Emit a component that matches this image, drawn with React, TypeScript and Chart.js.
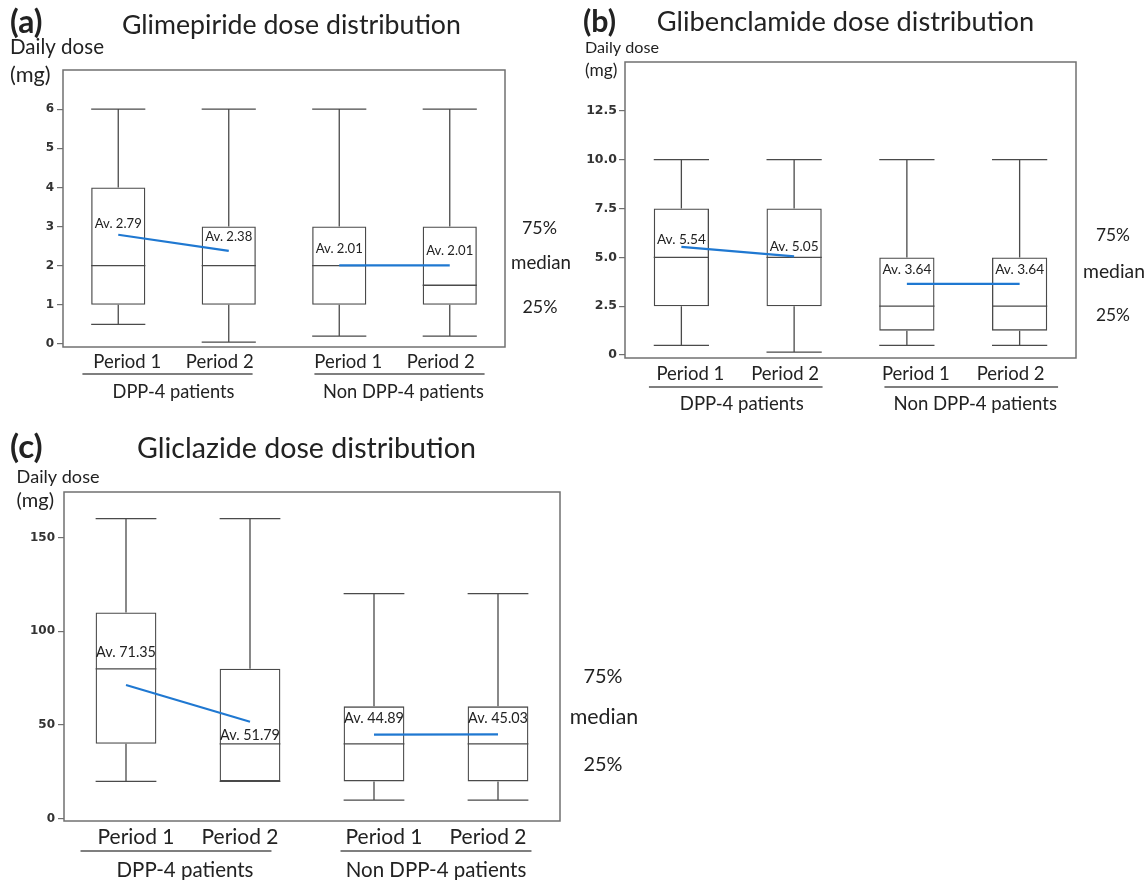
import React, { useEffect, useRef } from 'react';
import { Chart, registerables } from 'chart.js';

Chart.register(...registerables);

const W = 1148;
const H = 880;
const FONT = 'Lato, "Noto Sans", sans-serif';
const INK = '#222222';
const BOX = '#4a4a4a';
const FRAME = '#707070';
const BLUE = '#1f78d1';

// ---------- shared categories ----------
const categories = ['DPP-4 Period 1', 'DPP-4 Period 2', 'Non DPP-4 Period 1', 'Non DPP-4 Period 2'];
const periodLabels = ['Period 1', 'Period 2', 'Period 1', 'Period 2'];
const groupLabels = ['DPP-4 patients', 'Non DPP-4 patients'];
const sideLabels = ['75%', 'median', '25%'];

// ---------- (a) Glimepiride ----------
const glimMin = [0.5, 0.05, 0.2, 0.2];
const glimQ1 = [1, 1, 1, 1];
const glimMedian = [2, 2, 2, 1.5];
const glimQ3 = [4, 3, 3, 3];
const glimMax = [6, 6, 6, 6];
const glimMean = [2.79, 2.38, 2.01, 2.01];
const glimTicks = [0, 1, 2, 3, 4, 5, 6];
const glimTickLabels = ['0', '1', '2', '3', '4', '5', '6'];

// ---------- (b) Glibenclamide ----------
const glibMin = [0.5, 0.15, 0.5, 0.5];
const glibQ1 = [2.5, 2.5, 1.25, 1.25];
const glibMedian = [5, 5, 2.5, 2.5];
const glibQ3 = [7.5, 7.5, 5, 5];
const glibMax = [10, 10, 10, 10];
const glibMean = [5.54, 5.05, 3.64, 3.64];
const glibTicks = [0, 2.5, 5, 7.5, 10, 12.5];
const glibTickLabels = ['0', '2.5', '5.0', '7.5', '10.0', '12.5'];

// ---------- (c) Gliclazide ----------
const gliMin = [20, 20, 10, 10];
const gliQ1 = [40, 20, 20, 20];
const gliMedian = [80, 40, 40, 40];
const gliQ3 = [110, 80, 60, 60];
const gliMax = [160, 160, 120, 120];
const gliMean = [71.35, 51.79, 44.89, 45.03];
const gliTicks = [0, 50, 100, 150];
const gliTickLabels = ['0', '50', '100', '150'];

type TextItem = { text: string; x: number; y: number; w: number; align: 'left' | 'center'; bold?: boolean };

interface PanelDef {
  id: string;
  letter: string;
  title: string;
  mins: number[];
  q1: number[];
  medians: number[];
  q3: number[];
  maxs: number[];
  means: number[];
  ticks: number[];
  tickLabels: string[];
  yMin: number;
  yMax: number;
  area: { left: number; top: number; right: number; bottom: number };
  letterPos: [number, number, number];
  titlePos: [number, number, number];
  dailyPos: [number, number, number];
  mgPos: [number, number, number];
  sidePos: [number, number, number][];
  periodY: number;
  periodW: number;
  periodShift: number;
  underlineY: number;
  underlineDx: number[];
  groupY: number;
  groupW: number;
  groupDx: number[];
  avW: number;
  avDy: number[];
  tickSize: number;
  tickPad: number;
}

const panels: PanelDef[] = [
  {
    id: 'a',
    letter: '(a)',
    title: 'Glimepiride dose distribution',
    mins: glimMin, q1: glimQ1, medians: glimMedian, q3: glimQ3, maxs: glimMax, means: glimMean,
    ticks: glimTicks, tickLabels: glimTickLabels,
    yMin: -0.077, yMax: 7.0,
    area: { left: 63, top: 70, right: 505, bottom: 347 },
    letterPos: [10, 23, 32.5],
    titlePos: [291.4, 25, 339],
    dailyPos: [10, 47, 94],
    mgPos: [10, 75, 40.6],
    sidePos: [[539.5, 228, 35], [541, 263, 60], [540, 307, 35]],
    periodY: 362, periodW: 68, periodShift: 9,
    underlineY: 374, underlineDx: [-6, 5],
    groupY: 392, groupW: 122, groupDx: [0, 9],
    avW: 47, avDy: [-11, -14, -17, -15],
    tickSize: 12, tickPad: 3,
  },
  {
    id: 'b',
    letter: '(b)',
    title: 'Glibenclamide dose distribution',
    mins: glibMin, q1: glibQ1, medians: glibMedian, q3: glibQ3, maxs: glibMax, means: glibMean,
    ticks: glibTicks, tickLabels: glibTickLabels,
    yMin: -0.15, yMax: 15,
    area: { left: 625, top: 62, right: 1076, bottom: 358 },
    letterPos: [583, 22, 33],
    titlePos: [845.5, 22, 377.5],
    dailyPos: [585, 48, 74],
    mgPos: [585, 70, 32.4],
    sidePos: [[1113, 235, 34], [1114, 272, 62], [1113, 315, 34]],
    periodY: 374, periodW: 68, periodShift: 9,
    underlineY: 387, underlineDx: [-2, 8],
    groupY: 404, groupW: 124, groupDx: [4, 12],
    avW: 49, avDy: [-7, -10, -14, -14],
    tickSize: 12.5, tickPad: 2,
  },
  {
    id: 'c',
    letter: '(c)',
    title: 'Gliclazide dose distribution',
    mins: gliMin, q1: gliQ1, medians: gliMedian, q3: gliQ3, maxs: gliMax, means: gliMean,
    ticks: gliTicks, tickLabels: gliTickLabels,
    yMin: -1.1, yMax: 174.2,
    area: { left: 64, top: 492, right: 560, bottom: 821 },
    letterPos: [10, 447, 32.7],
    titlePos: [306.4, 449, 339],
    dailyPos: [16.6, 477, 83],
    mgPos: [16.6, 501, 37.4],
    sidePos: [[603, 677, 39], [604, 717, 68.5], [603, 765, 39]],
    periodY: 837, periodW: 77, periodShift: 10,
    underlineY: 851, underlineDx: [-12, 0],
    groupY: 870, groupW: 137, groupDx: [-3, 0],
    avW: 60, avDy: [-33, 14, -16, -16],
    tickSize: 12, tickPad: 3,
  },
];

function fitSize(ctx: CanvasRenderingContext2D, text: string, w: number, bold?: boolean) {
  ctx.font = `${bold ? 'bold ' : ''}100px ${FONT}`;
  return (100 * w) / ctx.measureText(text).width;
}

function drawText(ctx: CanvasRenderingContext2D, t: TextItem) {
  const size = fitSize(ctx, t.text, t.w, t.bold);
  ctx.font = `${t.bold ? 'bold ' : ''}${size}px ${FONT}`;
  ctx.textAlign = t.align;
  ctx.textBaseline = 'middle';
  ctx.fillStyle = INK;
  ctx.fillText(t.text, t.x, t.y);
}

function makePlugin(p: PanelDef) {
  return {
    id: 'boxplot-' + p.id,
    afterDatasetDraw(chart: any, args: any) {
      if (args.index !== 0) return;
      const ctx: CanvasRenderingContext2D = chart.ctx;
      const ys = chart.scales.y;
      const meta = chart.getDatasetMeta(0);
      ctx.save();
      ctx.strokeStyle = BOX;
      ctx.lineWidth = 1.3;
      p.q1.forEach((_, i) => {
        const bar = meta.data[i];
        const cx = bar.x;
        const hw = bar.width / 2;
        const yMax = ys.getPixelForValue(p.maxs[i]);
        const yMin = ys.getPixelForValue(p.mins[i]);
        const yQ1 = ys.getPixelForValue(p.q1[i]);
        const yQ3 = ys.getPixelForValue(p.q3[i]);
        const yMed = ys.getPixelForValue(p.medians[i]);
        ctx.beginPath();
        ctx.moveTo(cx, yQ3);
        ctx.lineTo(cx, yMax);
        ctx.moveTo(cx - hw, yMax);
        ctx.lineTo(cx + hw, yMax);
        ctx.moveTo(cx, yQ1);
        ctx.lineTo(cx, yMin);
        ctx.moveTo(cx - hw, yMin);
        ctx.lineTo(cx + hw, yMin);
        ctx.moveTo(cx - hw, yMed);
        ctx.lineTo(cx + hw, yMed);
        ctx.stroke();
      });
      ctx.restore();
    },
    afterDraw(chart: any) {
      const ctx: CanvasRenderingContext2D = chart.ctx;
      const a = chart.chartArea;
      const xs = chart.scales.x;
      const ys = chart.scales.y;
      ctx.save();
      // frame
      ctx.strokeStyle = FRAME;
      ctx.lineWidth = 1.5;
      ctx.strokeRect(a.left, a.top, a.right - a.left, a.bottom - a.top);

      // headings and side texts
      drawText(ctx, { text: p.letter, x: p.letterPos[0], y: p.letterPos[1], w: p.letterPos[2], align: 'left', bold: true });
      drawText(ctx, { text: p.title, x: p.titlePos[0], y: p.titlePos[1], w: p.titlePos[2], align: 'center' });
      drawText(ctx, { text: 'Daily dose', x: p.dailyPos[0], y: p.dailyPos[1], w: p.dailyPos[2], align: 'left' });
      drawText(ctx, { text: '(mg)', x: p.mgPos[0], y: p.mgPos[1], w: p.mgPos[2], align: 'left' });
      sideLabels.forEach((s, i) => {
        drawText(ctx, { text: s, x: p.sidePos[i][0], y: p.sidePos[i][1], w: p.sidePos[i][2], align: 'center' });
      });

      // average labels
      const avTexts = p.means.map((m) => `Av. ${m.toFixed(2)}`);
      const avSize = fitSize(ctx, avTexts[0], p.avW);
      ctx.font = `${avSize}px ${FONT}`;
      ctx.textAlign = 'center';
      ctx.textBaseline = 'middle';
      ctx.fillStyle = INK;
      p.means.forEach((m, i) => {
        ctx.fillText(avTexts[i], xs.getPixelForValue(i), ys.getPixelForValue(m) + p.avDy[i]);
      });

      // period labels
      const pSize = fitSize(ctx, periodLabels[0], p.periodW);
      ctx.font = `${pSize}px ${FONT}`;
      periodLabels.forEach((lab, i) => {
        const dir = i % 2 === 0 ? 1 : -1;
        ctx.fillText(lab, xs.getPixelForValue(i) + dir * p.periodShift, p.periodY);
      });

      // group underline + labels
      const spacing = xs.getPixelForValue(1) - xs.getPixelForValue(0);
      const gSize = fitSize(ctx, groupLabels[0], p.groupW);
      groupLabels.forEach((lab, g) => {
        const c = (xs.getPixelForValue(2 * g) + xs.getPixelForValue(2 * g + 1)) / 2;
        const uc = c + p.underlineDx[g];
        ctx.strokeStyle = '#555555';
        ctx.lineWidth = 1.5;
        ctx.beginPath();
        ctx.moveTo(uc - 0.77 * spacing, p.underlineY);
        ctx.lineTo(uc + 0.77 * spacing, p.underlineY);
        ctx.stroke();
        ctx.font = `${gSize}px ${FONT}`;
        ctx.fillStyle = INK;
        ctx.fillText(lab, c + p.groupDx[g], p.groupY);
      });
      ctx.restore();
    },
  };
}

function BoxPanel({ p }: { p: PanelDef }) {
  const ref = useRef<HTMLCanvasElement | null>(null);
  useEffect(() => {
    if (!ref.current) return;
    const chart = new Chart(ref.current, {
      type: 'bar',
      data: {
        labels: categories,
        datasets: [
          {
            type: 'bar',
            label: 'IQR',
            data: p.q1.map((v, i) => [v, p.q3[i]]) as any,
            backgroundColor: 'rgba(0,0,0,0)',
            borderColor: BOX,
            borderWidth: 1.3,
            borderSkipped: false,
            barPercentage: 0.49,
            categoryPercentage: 1,
            order: 2,
          } as any,
          {
            type: 'line',
            label: 'Mean DPP-4',
            data: [p.means[0], p.means[1], null, null],
            borderColor: BLUE,
            borderWidth: 2.2,
            pointRadius: 0,
            fill: false,
            order: 1,
          } as any,
          {
            type: 'line',
            label: 'Mean non DPP-4',
            data: [null, null, p.means[2], p.means[3]],
            borderColor: BLUE,
            borderWidth: 2.2,
            pointRadius: 0,
            fill: false,
            order: 1,
          } as any,
        ],
      },
      options: {
        responsive: false,
        animation: false,
        devicePixelRatio: 1,
        layout: {
          padding: { left: 0, top: p.area.top, right: W - p.area.right, bottom: H - p.area.bottom },
        },
        plugins: {
          legend: { display: false },
          tooltip: { enabled: false },
          title: { display: false },
        },
        scales: {
          x: { type: 'category', display: false, offset: true },
          y: {
            type: 'linear',
            min: p.yMin,
            max: p.yMax,
            afterFit: (s: any) => {
              s.width = p.area.left;
            },
            afterBuildTicks: (s: any) => {
              s.ticks = p.ticks.map((v) => ({ value: v }));
            },
            ticks: {
              callback: (v: any) => {
                const idx = p.ticks.indexOf(Number(v));
                return idx >= 0 ? p.tickLabels[idx] : '';
              },
              font: { family: '"DejaVu Sans", sans-serif', weight: 'bold', size: p.tickSize },
              color: '#333333',
              padding: p.tickPad,
            },
            grid: { drawOnChartArea: false, drawTicks: true, tickLength: 6, color: FRAME, lineWidth: 1.2 },
            border: { display: false },
          },
        },
      } as any,
      plugins: [makePlugin(p)],
    });
    return () => chart.destroy();
  }, [p]);
  return (
    <canvas
      ref={ref}
      width={W}
      height={H}
      style={{ position: 'absolute', left: 0, top: 0, width: W, height: H }}
    />
  );
}

export default function App() {
  return (
    <div style={{ position: 'absolute', left: 0, top: 0, width: W, height: H, background: '#ffffff' }}>
      {panels.map((p) => (
        <BoxPanel key={p.id} p={p} />
      ))}
    </div>
  );
}
